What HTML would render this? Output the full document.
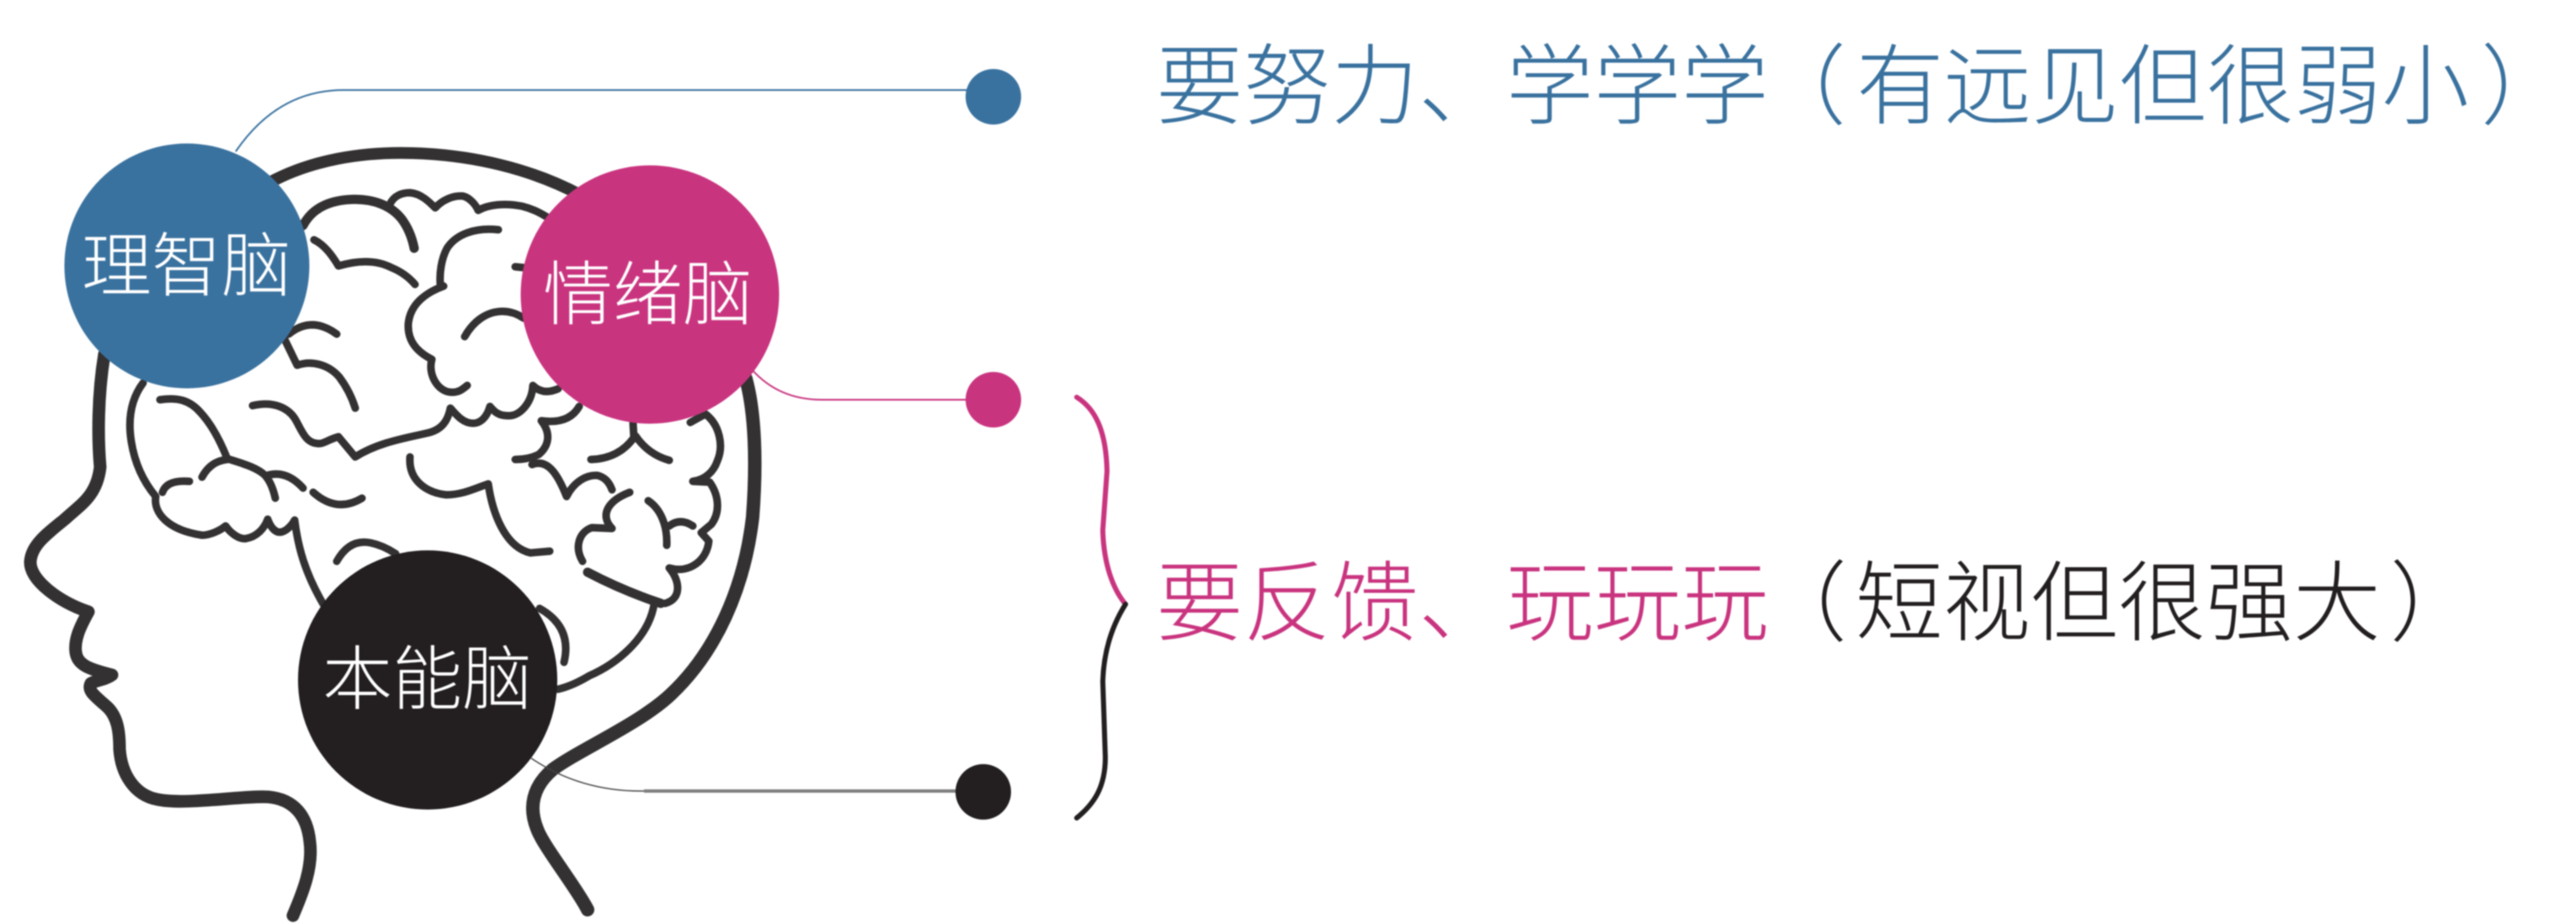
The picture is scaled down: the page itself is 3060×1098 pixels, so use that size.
<!DOCTYPE html>
<html><head><meta charset="utf-8"><style>
html,body{margin:0;padding:0;background:#fff;width:3060px;height:1098px;overflow:hidden}
svg{display:block;filter:blur(0.8px)}
text{font-family:"Liberation Sans","Noto Sans CJK SC",sans-serif;font-weight:300}
.h{fill:none;stroke:#333132;stroke-width:14;stroke-linecap:round;stroke-linejoin:round}
.b{fill:none;stroke:#333132;stroke-width:9;stroke-linecap:round;stroke-linejoin:round}
</style></head><body>
<svg width="3060" height="1098" viewBox="0 0 3060 1098" xmlns="http://www.w3.org/2000/svg">
<rect width="3060" height="1098" fill="#fff"/>
<!-- head -->
<path class="h" d="M320 217 C370 190 430 180 491 182 C560 184 630 200 690 232"/>
<path class="h" style="stroke-width:16" d="M886 450 C897 490 899 550 894 615 C884 700 850 775 797 825 C760 860 690 890 657 914 C632 935 628 960 638 985 C645 1005 685 1055 698 1081"/>
<path class="h" style="stroke-width:15" d="M124 421 C116 470 116 520 119 555 C115 590 95 600 77 617 C55 635 37 648 36 668 C36 690 70 715 105 727 C95 745 88 760 90 775 C92 790 105 795 133 802 C125 808 115 808 108 812 C104 820 110 825 125 838 C140 850 142 870 142 890 C144 920 160 945 187 950 C220 957 290 945 319 947 C350 950 365 970 368 1000 C372 1030 360 1060 348 1088"/>
<!-- brain -->
<path class="b" style="stroke-width:11" d="M360 268 C372 245 395 238 417 237 C445 236 465 245 477 260 C486 272 490 285 492 295"/>
<path class="b" d="M463 243 C468 232 478 229 487 229 C500 230 510 240 517 247 C525 238 538 232 550 233 C558 235 565 243 568 250 C580 243 600 241 620 245 C632 248 640 252 650 258"/>
<path class="b" d="M373 285 Q388 292 402 316 Q440 305 465 318 Q482 325 493 338"/>
<path class="b" d="M592 273 C565 270 542 278 531 295 C524 308 522 325 523 338 L527 340 C505 348 487 362 485 385 C484 405 495 418 513 427 C508 445 520 465 535 466 C545 467 550 462 555 458"/>
<path class="b" d="M552 400 C562 382 578 370 597 370 Q610 370 622 378"/>
<path class="b" d="M663 462 Q645 470 633 458 C632 478 618 495 603 494 C592 494 587 489 582 483 C578 497 570 503 562 503 C550 503 542 493 535 485 C532 500 525 510 510 514 C485 520 450 525 422 543 L402 519 C390 522 385 528 377 527 C362 526 358 510 350 497 C342 485 325 476 300 482"/>
<path class="b" d="M343 397 Q370 375 400 397"/>
<path class="b" d="M338 403 L353 434 C370 428 390 433 403 448 C412 460 418 472 422 485"/>
<path class="b" d="M170 455 C155 475 152 500 156 525 C160 550 170 572 185 590 C182 610 200 630 240 636 C250 636 262 630 268 625 C275 635 285 641 292 640 C305 638 314 628 318 617 C322 628 328 634 335 632 C342 630 348 622 350 618 C354 650 362 680 384 718"/>
<path class="b" d="M190 475 C210 472 225 475 238 490 C252 505 262 525 270 545 C285 550 305 555 315 565 C322 573 325 583 327 592"/>
<path class="b" d="M240 567 Q250 548 270 546"/>
<path class="b" d="M317 565 Q340 558 360 580"/>
<path class="b" d="M193 585 Q198 570 225 572"/>
<path class="b" d="M372 585 Q400 610 430 592"/>
<path class="b" d="M400 667 Q415 640 440 645 Q455 648 470 658"/>
<path class="b" d="M487 543 C485 570 505 585 530 588 C550 588 565 580 580 575 C585 610 600 650 630 657 L653 655"/>
<path class="b" d="M688 483 C680 497 665 503 643 500 C655 515 652 530 640 540 Q628 546 612 546"/>
<path class="b" d="M632 552 C650 545 662 562 673 590 C682 572 697 564 710 565 Q722 568 727 582"/>
<path class="b" d="M692 667 C682 650 688 632 703 627 L727 628 C712 612 722 595 748 585"/>
<path class="b" d="M770 595 C785 605 793 625 792 648 M795 625 Q808 615 823 625"/>
<path class="b" d="M702 546 Q735 545 753 520 L752 503 M755 518 Q770 540 795 547"/>
<path class="b" d="M820 502 L838 492 C855 505 860 530 852 548 C848 560 838 570 823 572 L843 573 C855 590 855 610 845 623 L833 633 L842 643 C840 665 820 682 795 675 C808 690 810 712 790 717"/>
<path class="b" style="stroke-width:11" d="M698 680 Q740 702 785 717"/>
<path class="b" d="M777 718 C770 760 730 790 700 803 Q680 815 663 819"/>
<path class="b" d="M641 723 Q680 745 670 787"/>
<path class="b" d="M612 317 L622 318"/>
<!-- connectors -->
<path d="M280 180 Q330 107 408 107 L1150 107" fill="none" stroke="#3a729f" stroke-width="2"/>
<path d="M893 439 Q925 475 976 475 L1150 475" fill="none" stroke="#c9347f" stroke-width="2"/>
<path d="M631 901 Q690 941 765 940" fill="none" stroke="#444" stroke-width="1.5"/>
<path d="M765 940 L1140 940" fill="none" stroke="#808080" stroke-width="4"/>
<!-- circles -->
<circle cx="222" cy="316" r="145.5" fill="#3a729f"/>
<circle cx="772" cy="350" r="153.5" fill="#c9347f"/>
<circle cx="508" cy="808" r="154" fill="#231f20"/>
<circle cx="1180" cy="115" r="33" fill="#3a729f"/>
<circle cx="1180" cy="475" r="33" fill="#c9347f"/>
<circle cx="1168" cy="941" r="33" fill="#231f20"/>
<!-- brace -->
<path d="M1279 472 C1300 485 1314 510 1315 560 L1310 630 C1311 670 1322 700 1337 718" fill="none" stroke="#c9347f" stroke-width="6" stroke-linecap="round"/>
<path d="M1337 718 C1320 745 1311 775 1310 810 L1313 900 C1313 935 1300 955 1279 972" fill="none" stroke="#231f20" stroke-width="6" stroke-linecap="round"/>
<!-- labels -->
<text x="97" y="345" font-size="83" fill="#fff">理智脑</text>
<text x="645" y="379" font-size="83" fill="#fff">情绪脑</text>
<text x="383" y="836" font-size="83" fill="#fff">本能脑</text>
<text y="139" font-size="104" fill="#3a729f"><tspan x="1373">要努力、学学学</tspan><tspan x="2089">（</tspan><tspan x="2205">有远见但很弱小</tspan><tspan x="2947">）</tspan></text>
<text y="753" font-size="104" fill="#c9347f"><tspan x="1373">要反馈、玩玩玩</tspan><tspan x="2090" fill="#231f20">（</tspan><tspan x="2204" fill="#231f20">短视但很强大</tspan><tspan x="2839" fill="#231f20">）</tspan></text>
</svg>
</body></html>
